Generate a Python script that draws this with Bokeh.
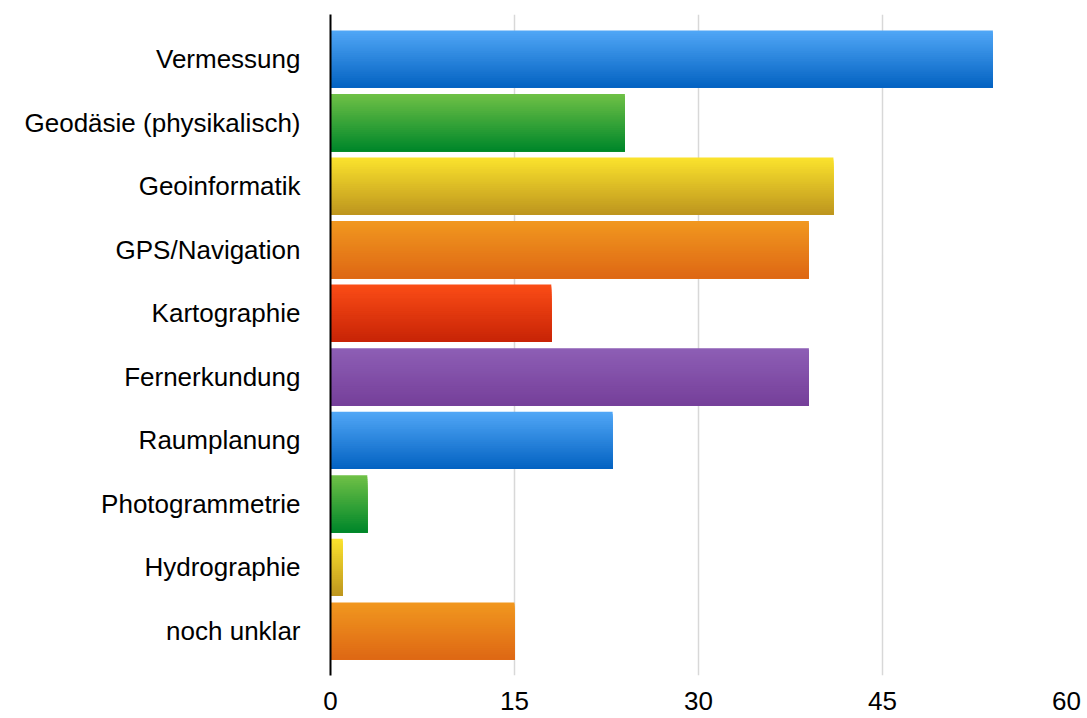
from bokeh.plotting import figure
from bokeh.models import FactorRange, ColumnDataSource, FixedTicker
from bokeh.transform import dodge
from bokeh.embed import file_html
from bokeh.resources import INLINE

# ---- data ----
categories = ["Vermessung", "Geodäsie (physikalisch)", "Geoinformatik", "GPS/Navigation",
              "Kartographie", "Fernerkundung", "Raumplanung", "Photogrammetrie",
              "Hydrographie", "noch unklar"]
values = [54, 24, 41, 39, 18, 39, 23, 3, 1, 15]
x_ticks = [0, 15, 30, 45, 60]

# ---- styles (gradient top/bottom colours, cycling) ----
palette = [((80, 166, 246), (4, 99, 194)),     # blue
           ((110, 192, 70), (0, 135, 42)),     # green
           ((250, 226, 45), (190, 150, 30)),   # yellow
           ((241, 151, 31), (222, 104, 20)),   # orange
           ((250, 76, 22), (200, 36, 6)),      # red
           ((141, 94, 181), (118, 64, 154))]   # purple

def mix(c1, c2, t):
    return "#%02x%02x%02x" % tuple(int(round(a + (b - a) * t)) for a, b in zip(c1, c2))

FONT = "Liberation Sans"

p = figure(y_range=FactorRange(*reversed(categories), range_padding=0.04),
           x_range=(0, 60),
           output_backend="svg", toolbar_location=None,
           frame_width=736, frame_height=661,
           min_border_left=330, min_border_right=20, min_border_top=14, min_border_bottom=40)

p.outline_line_color = None
p.background_fill_color = "white"
p.border_fill_color = "white"

# gradient bars: stacked strips, each reaching from its top edge down to the bar bottom
BAR_H = 0.9
N = 30
sh = BAR_H / N
for k in range(N):
    t = k / (N - 1)
    cols = [mix(palette[i % len(palette)][0], palette[i % len(palette)][1], t)
            for i in range(len(categories))]
    src = ColumnDataSource(dict(cat=categories, val=values, color=cols))
    top = BAR_H / 2 - k * sh
    bottom = -BAR_H / 2
    p.hbar(y=dodge("cat", (top + bottom) / 2, range=p.y_range), left=0, right="val",
           height=top - bottom, fill_color="color", line_color=None, source=src)

# grid
p.ygrid.grid_line_color = None
p.xgrid.grid_line_color = "#d8d8d8"
p.xgrid.grid_line_width = 1.5
p.xaxis.ticker = FixedTicker(ticks=x_ticks)

# x axis
p.xaxis.axis_line_color = None
p.xaxis.major_tick_line_color = None
p.xaxis.minor_tick_line_color = None
p.xaxis.major_label_text_font = FONT
p.xaxis.major_label_text_font_size = "26px"
p.xaxis.major_label_text_color = "black"
p.xaxis.major_label_standoff = 10

# y axis
p.yaxis.axis_line_color = "black"
p.yaxis.axis_line_width = 2
p.yaxis.major_tick_line_color = None
p.yaxis.minor_tick_line_color = None
p.yaxis.major_label_text_font = FONT
p.yaxis.major_label_text_font_size = "26px"
p.yaxis.major_label_text_color = "black"
p.yaxis.major_label_standoff = 24

open("out.html", "w").write(file_html(p, INLINE))
